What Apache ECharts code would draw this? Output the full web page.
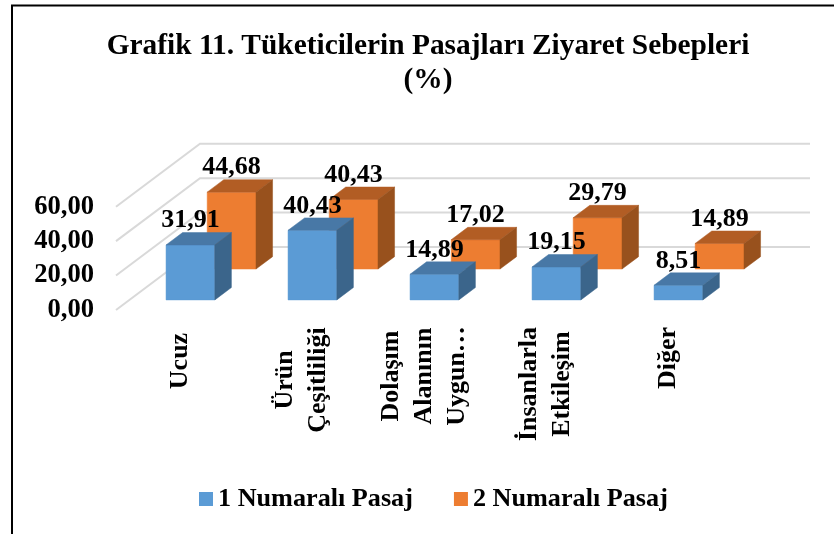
<!DOCTYPE html>
<html>
<head>
<meta charset="utf-8">
<style>
  html, body { margin: 0; padding: 0; background: #fff; }
  #chart { width: 834px; height: 534px; }
</style>
</head>
<body>
<div id="chart"></div>
<script src="https://cdn.jsdelivr.net/npm/echarts@6/dist/echarts.min.js"></script>
<script>
const categories = ['Ucuz', 'Ürün\nÇeşitliliği', 'Dolaşım\nAlanının\nUygun…', 'İnsanlarla\nEtkileşim', 'Diğer']
const pasaj1 = [31.91, 40.43, 14.89, 19.15, 8.51]
const pasaj2 = [44.68, 40.43, 17.02, 29.79, 14.89]
const yTicks = [0, 20, 40, 60]

const FONT = '"Liberation Serif", "Times New Roman", serif'
// fake 3d: how far the back wall is from the front of the floor
const DEPTH_X = 84
const DEPTH_Y = 63
const BAR_DEPTH = 0.197
const BAR_WIDTH = 0.4 // of a category band
// middle of each rotated category label, px
const labelMidY = [361, 380, 376, 384, 358]

function barItem(frontColor, topColor, sideColor, depth, values) {
  return function (params, api) {
    const cat = api.value(0)
    const val = api.value(1)
    const w = api.size([1, 0])[0] * BAR_WIDTH
    // project a point of the bar: dx from band centre, t along the depth
    const pt = (v, dx, t) => {
      const p = api.coord([cat, v])
      return [p[0] + dx + t * DEPTH_X, p[1] - t * DEPTH_Y]
    }
    const d0 = depth
    const d1 = depth + BAR_DEPTH
    const poly = (points, color) => ({
      type: 'polygon',
      shape: { points },
      style: { fill: color, stroke: color, lineWidth: 0.5 },
    })
    const top = pt(val, 0, d0)
    return {
      type: 'group',
      children: [
        poly([pt(0, -w / 2, d0), pt(0, w / 2, d0), pt(val, w / 2, d0), pt(val, -w / 2, d0)], frontColor),
        poly([pt(val, -w / 2, d0), pt(val, w / 2, d0), pt(val, w / 2, d1), pt(val, -w / 2, d1)], topColor),
        poly([pt(0, w / 2, d0), pt(0, w / 2, d1), pt(val, w / 2, d1), pt(val, w / 2, d0)], sideColor),
        {
          type: 'text',
          x: top[0],
          y: pt(val, 0, d1)[1] + 1,
          style: {
            text: values[params.dataIndex].toFixed(2).replace('.', ','),
            font: 'bold 26px ' + FONT,
            fill: '#000',
            align: 'center',
            verticalAlign: 'bottom',
          },
        },
      ],
    }
  }
}

const option = {
  animation: false,
  backgroundColor: '#fff',
  title: {
    text: 'Grafik 11. Tüketicilerin Pasajları Ziyaret Sebepleri\n(%)',
    left: 423,
    top: 24,
    textAlign: 'center',
    textStyle: {
      fontFamily: FONT,
      fontWeight: 'bold',
      fontSize: 29.4,
      lineHeight: 34,
      color: '#000',
    },
  },
  legend: {
    data: ['1 Numaralı Pasaj', '2 Numaralı Pasaj'],
    left: 194,
    top: 481,
    icon: 'rect',
    itemWidth: 14,
    itemHeight: 14,
    itemGap: 41,
    textStyle: {
      fontFamily: FONT,
      fontWeight: 'bold',
      fontSize: 26.2,
      color: '#000',
    },
  },
  grid: {
    left: 116,
    width: 610,
    top: 206.7,
    height: 103.3,
  },
  xAxis: {
    type: 'category',
    data: categories,
    axisLine: { show: false },
    axisTick: { show: false },
    axisLabel: { show: false },
  },
  yAxis: {
    type: 'value',
    min: 0,
    max: 60,
    interval: 20,
    splitLine: { show: false },
    axisLine: { show: false },
    axisTick: { show: false },
    axisLabel: {
      margin: 22,
      padding: [4, 0, 0, 0],
      fontFamily: FONT,
      fontWeight: 'bold',
      fontSize: 26.6,
      color: '#000',
      formatter: (v) => v.toFixed(2).replace('.', ','),
    },
  },
  graphic: [
    // the frame of the pasted picture
    {
      type: 'polyline',
      silent: true,
      shape: { points: [[12, 534], [12, 5.5], [834, 5.5]] },
      style: { stroke: '#000', lineWidth: 2, fill: null },
    },
  ],
  series: [
    {
      // walls: one bent line per tick
      type: 'custom',
      name: 'grid',
      silent: true,
      z: 1,
      data: yTicks.map((v) => [0, v]),
      renderItem(params, api) {
        const band = api.size([1, 0])[0]
        const p = api.coord([0, api.value(1)])
        const x0 = p[0] - band / 2
        const x1 = x0 + band * categories.length
        return {
          type: 'polyline',
          shape: { points: [[x0, p[1]], [x0 + DEPTH_X, p[1] - DEPTH_Y], [x1 + DEPTH_X, p[1] - DEPTH_Y]] },
          style: { stroke: '#d9d9d9', lineWidth: 2, fill: null },
        }
      },
    },
    {
      type: 'custom',
      name: '2 Numaralı Pasaj',
      itemStyle: { color: '#ed7d31' },
      z: 2,
      data: pasaj2.map((v, i) => [i, v]),
      renderItem: barItem('#ed7d31', '#b25d24', '#98511d', 0.65, pasaj2),
    },
    {
      type: 'custom',
      name: '1 Numaralı Pasaj',
      itemStyle: { color: '#5b9bd5' },
      z: 3,
      data: pasaj1.map((v, i) => [i, v]),
      renderItem: barItem('#5b9bd5', '#4878a6', '#3b658b', 0.16, pasaj1),
    },
    {
      // rotated category labels, each line centred inside its block
      type: 'custom',
      name: 'labels',
      silent: true,
      z: 4,
      data: categories.map((c, i) => [i, 0]),
      renderItem(params, api) {
        const i = params.dataIndex
        return {
          type: 'text',
          x: api.coord([i, 0])[0] + 3,
          y: labelMidY[i],
          rotation: Math.PI / 2,
          style: {
            text: categories[i],
            font: 'bold 26px ' + FONT,
            lineHeight: 33,
            fill: '#000',
            align: 'center',
            verticalAlign: 'middle',
          },
        }
      },
    },
  ],
}

const myChart = echarts.init(document.getElementById('chart'))
myChart.setOption(option)
</script>
</body>
</html>
